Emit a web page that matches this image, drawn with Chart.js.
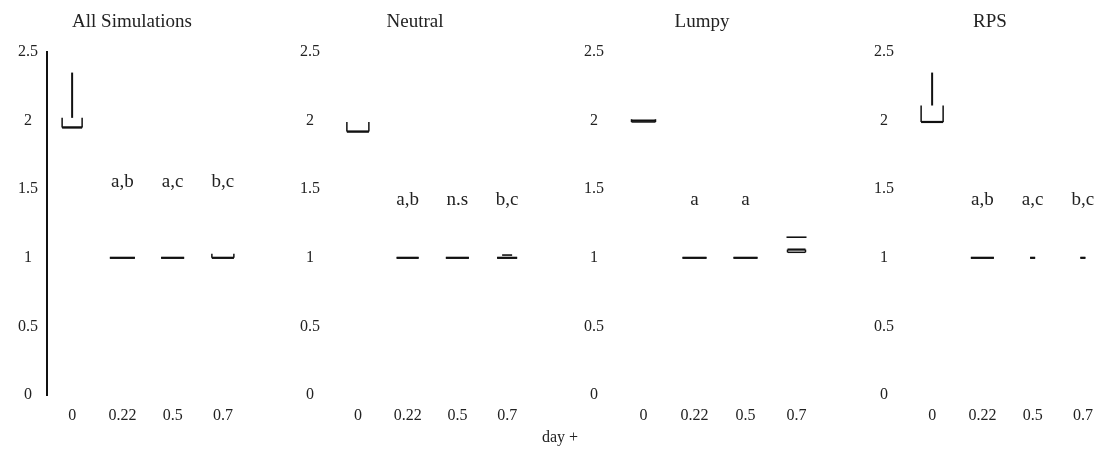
<!DOCTYPE html>
<html>
<head>
<meta charset="utf-8">
<script src="https://cdn.jsdelivr.net/npm/chart.js@4.4.1/dist/chart.umd.min.js"></script>
<style>
  html, body { margin: 0; padding: 0; background: #fff; overflow: hidden; }
  #fig { position: relative; width: 1094px; height: 461px; overflow: hidden; }
  .panel { position: absolute; top: 0; }
  #xlabel {
    position: absolute; top: 428px; left: 0; width: 1120px;
    text-align: center; font: 16px "Liberation Serif", serif; color: #222;
  }
</style>
</head>
<body>
<div id="fig">
  <canvas class="panel" id="p0" width="264" height="430" style="left:0px"></canvas>
  <canvas class="panel" id="p1" width="258" height="430" style="left:286px"></canvas>
  <canvas class="panel" id="p2" width="262" height="430" style="left:571px"></canvas>
  <canvas class="panel" id="p3" width="260" height="430" style="left:860px"></canvas>
  <div id="xlabel">day +</div>
</div>
<script>
const categories = ["0", "0.22", "0.5", "0.7"];
const panelTitles = ["All Simulations", "Neutral", "Lumpy", "RPS"];
const yTicks = [0, 0.5, 1, 1.5, 2, 2.5];

// five-number summaries per category: [low whisker, Q1, median, Q3, high whisker]
const allSims = [[1.95, 1.95, 1.95, 2.02, 2.35], [1, 1, 1, 1, 1], [1, 1, 1, 1, 1], [1, 1, 1, 1.03, 1.03]];
const neutral = [[1.92, 1.92, 1.92, 1.99, 1.99], [1, 1, 1, 1, 1], [1, 1, 1, 1, 1], [1, 1, 1, 1, 1]];
const lumpy = [[1.99, 1.99, 2.0, 2.01, 2.01], [1, 1, 1, 1, 1], [1, 1, 1, 1, 1], [1.04, 1.04, 1.06, 1.06, 1.06]];
const rps = [[1.99, 1.99, 1.99, 2.11, 2.35], [1, 1, 1, 1, 1], [1, 1, 1, 1, 1], [1, 1, 1, 1, 1]];

// outlying values per category
const allOutliers = [[], [], [], []];
const neutralOutliers = [[], [], [], [1.02]];
const lumpyOutliers = [[], [], [], [1.15]];
const rpsOutliers = [[], [], [], []];

// pairwise comparison letters
const allLetters = ["", "a,b", "a,c", "b,c"];
const neutralLetters = ["", "a,b", "n.s", "b,c"];
const lumpyLetters = ["", "a", "a", ""];
const rpsLetters = ["", "a,b", "a,c", "b,c"];

const FONT = "'Liberation Serif', 'Times New Roman', serif";

// side padding is symmetric so the title sits in the middle of each canvas
const panels = [
  { id: "p0", title: panelTitles[0], stats: allSims, outliers: allOutliers, letters: allLetters,
    letterY: 1.55, widths: [20, 25, 23, 22], dashW: [0, 0, 0, 0], tickPad: 9, side: 16, axisLine: true },
  { id: "p1", title: panelTitles[1], stats: neutral, outliers: neutralOutliers, letters: neutralLetters,
    letterY: 1.42, widths: [22, 22, 23, 20], dashW: [0, 0, 0, 10], tickPad: 13, side: 12, axisLine: false },
  { id: "p2", title: panelTitles[2], stats: lumpy, outliers: lumpyOutliers, letters: lumpyLetters,
    letterY: 1.42, widths: [24, 24, 24, 18], dashW: [0, 0, 0, 20], tickPad: 14, side: 11, axisLine: false },
  { id: "p3", title: panelTitles[3], stats: rps, outliers: rpsOutliers, letters: rpsLetters,
    letterY: 1.42, widths: [22, 23, 5, 5], dashW: [0, 0, 0, 0], tickPad: 13, side: 12, axisLine: false },
];

// draws open-topped boxes, whiskers, outlier dashes and letters on the chart scales
const boxPlotPlugin = {
  id: "boxPlots",
  afterDatasetsDraw(chart, args, opts) {
    const p = opts.panel;
    if (!p) return;
    const { ctx } = chart;
    const xs = chart.scales.x, ys = chart.scales.y;
    const Y = (v) => ys.getPixelForValue(v);
    const line = (x1, y1, x2, y2, w) => {
      ctx.lineWidth = w;
      ctx.beginPath();
      ctx.moveTo(x1, y1);
      ctx.lineTo(x2, y2);
      ctx.stroke();
    };
    ctx.save();
    ctx.strokeStyle = "#111";
    p.stats.forEach((s, i) => {
      const [lo, q1, med, q3, hi] = s;
      const cx = xs.getPixelForValue(i);
      const half = p.widths[i] / 2;
      if (hi > q3) line(cx, Y(hi), cx, Y(q3), 2);
      if (lo < q1) line(cx, Y(q1), cx, Y(lo), 2);
      if (q3 > q1) {
        line(cx - half, Y(q3), cx - half, Y(q1), 1.5);
        line(cx + half, Y(q3), cx + half, Y(q1), 1.5);
      }
      line(cx - half, Y(q1), cx + half, Y(q1), 1.5);
      line(cx - half, Y(med), cx + half, Y(med), 2.2);
      p.outliers[i].forEach((v) => {
        const d = p.dashW[i] / 2;
        line(cx - d, Y(v), cx + d, Y(v), 1.6);
      });
      if (p.letters[i]) {
        ctx.fillStyle = "#222";
        ctx.font = "19px " + FONT;
        ctx.textAlign = "center";
        ctx.textBaseline = "middle";
        ctx.fillText(p.letters[i], cx, Y(p.letterY));
      }
    });
    ctx.restore();
  },
};

panels.forEach((p) => {
  new Chart(document.getElementById(p.id).getContext("2d"), {
    type: "bar",
    data: {
      labels: categories,
      datasets: [{ data: p.stats.map((s) => s[2]), backgroundColor: "rgba(0,0,0,0)", borderWidth: 0 }],
    },
    plugins: [boxPlotPlugin],
    options: {
      responsive: false,
      animation: false,
      events: [],
      layout: { padding: { left: p.side, right: p.side, top: 0, bottom: 0 } },
      plugins: {
        legend: { display: false },
        tooltip: { enabled: false },
        title: {
          display: true,
          text: p.title,
          color: "#222",
          font: { family: FONT, size: 19, weight: "normal" },
          padding: { top: 10.6, bottom: 18.6 },
        },
        boxPlots: { panel: p },
      },
      scales: {
        x: {
          grid: { display: false, drawTicks: false },
          border: { display: false },
          ticks: { color: "#222", padding: 11, font: { family: FONT, size: 16 } },
          afterFit: (s) => { s.height = 35; },
        },
        y: {
          min: 0,
          max: 2.5,
          grid: { display: false, drawTicks: false },
          border: { display: p.axisLine, color: "#111", width: 2 },
          afterBuildTicks: (s) => { s.ticks = yTicks.map((v) => ({ value: v })); },
          ticks: {
            color: "#222",
            padding: p.tickPad,
            crossAlign: "center",
            font: { family: FONT, size: 16 },
            callback: (v) => String(v),
          },
          afterFit: (s) => { s.width = 47 - p.side; },
        },
      },
    },
  });
});
</script>
</body>
</html>
